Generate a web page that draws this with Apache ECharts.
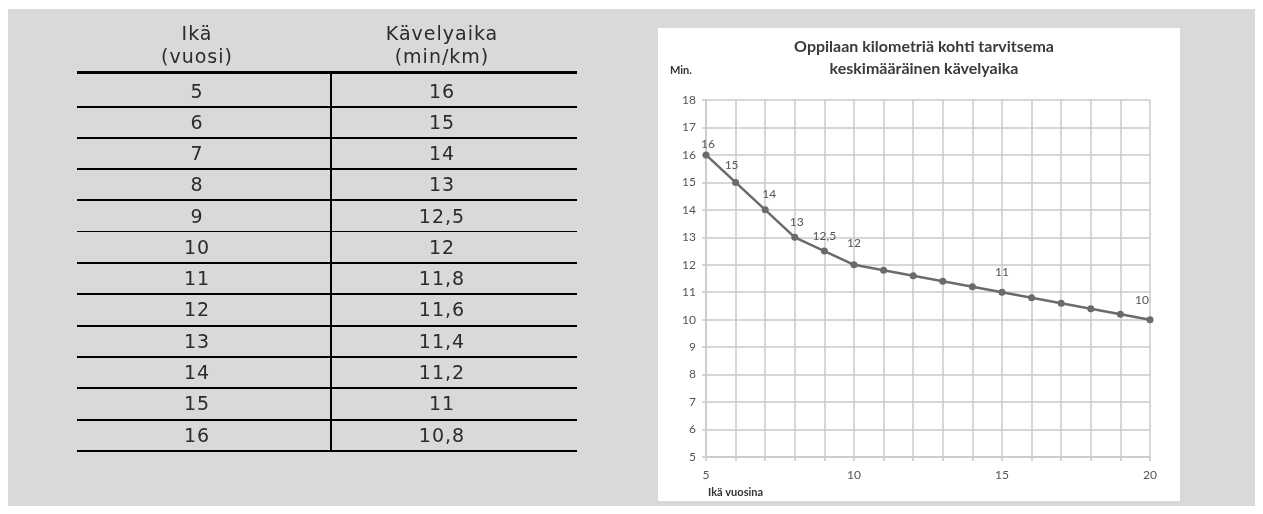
<!DOCTYPE html>
<html>
<head>
<meta charset="utf-8">
<script src="https://cdn.jsdelivr.net/npm/echarts@6/dist/echarts.min.js"></script>
<style>
  html, body { margin: 0; padding: 0; background: #ffffff; }
  #wrap { position: relative; width: 1263px; height: 514px; overflow: hidden; }
  #chart { position: absolute; left: 0; top: 0; width: 1263px; height: 514px; }
  #table { position: absolute; left: 0; top: 0; width: 1263px; height: 514px; pointer-events: none;
           font-family: "DejaVu Sans", sans-serif; color: #2b2b2b; }
  .cell { position: absolute; text-align: center; font-size: 19px; letter-spacing: 1px; line-height: 23px; }
  .hline { position: absolute; background: #000; }
</style>
</head>
<body>
<div id="wrap">
  <div id="chart"></div>
  <div id="table"></div>
</div>
<script>
// ---- data ----
var tableHeaders = [["Ikä", "(vuosi)"], ["Kävelyaika", "(min/km)"]];
var tableAges = ["5", "6", "7", "8", "9", "10", "11", "12", "13", "14", "15", "16"];
var tableTimes = ["16", "15", "14", "13", "12,5", "12", "11,8", "11,6", "11,4", "11,2", "11", "10,8"];

var chartTitle = "Oppilaan kilometriä kohti tarvitsema\nkeskimääräinen kävelyaika";
var yAxisName = "Min.";
var xAxisName = "Ikä vuosina";
var ages = [5, 6, 7, 8, 9, 10, 11, 12, 13, 14, 15, 16, 17, 18, 19, 20];
var walkTimes = [16, 15, 14, 13, 12.5, 12, 11.8, 11.6, 11.4, 11.2, 11, 10.8, 10.6, 10.4, 10.2, 10];
var labelledAges = [5, 6, 7, 8, 9, 10, 15, 20];

// ---- label placement tweaks (style, keyed by age) ----
var labelOffsets = { 5: [2, 4], 6: [-4, -3], 7: [4, -1], 8: [2, -1], 9: [0, 0], 10: [0, -7], 15: [0, -6], 20: [-8, -5] };

// ---- table (HTML) ----
(function () {
  var t = document.getElementById('table');
  var left = 77, right = 577, mid = 331;
  var headerLine = 72, firstRowH = 34.5, rowH = 31.3;
  function add(html) { t.insertAdjacentHTML('beforeend', html); }
  function rowTop(i) { return i === 0 ? headerLine : headerLine + firstRowH + rowH * (i - 1); }
  function rowBottom(i) { return headerLine + firstRowH + rowH * i; }
  add('<div class="cell" style="left:' + left + 'px;width:' + (mid - left - 14) + 'px;top:22px;">' + tableHeaders[0][0] + '<br>' + tableHeaders[0][1] + '</div>');
  add('<div class="cell" style="left:' + mid + 'px;width:' + (right - mid - 24) + 'px;top:22px;">' + tableHeaders[1][0] + '<br>' + tableHeaders[1][1] + '</div>');
  add('<div class="hline" style="left:' + left + 'px;width:' + (right - left) + 'px;top:' + (headerLine - 1) + 'px;height:2.5px;"></div>');
  for (var i = 0; i < tableAges.length; i++) {
    var top = rowTop(i), bot = rowBottom(i);
    var cy = (top + bot) / 2 + (i === 0 ? 2 : 0);
    add('<div class="cell" style="left:' + left + 'px;width:' + (mid - left - 14) + 'px;top:' + (cy - 11.5) + 'px;">' + tableAges[i] + '</div>');
    add('<div class="cell" style="left:' + mid + 'px;width:' + (right - mid - 24) + 'px;top:' + (cy - 11.5) + 'px;">' + tableTimes[i] + '</div>');
    var thin = (i === 3 || i === 4);
    add('<div class="hline" style="left:' + left + 'px;width:' + (right - left) + 'px;top:' + (bot - 1) + 'px;height:' + (thin ? 1.5 : 2.2) + 'px;"></div>');
  }
  add('<div class="hline" style="left:' + (mid - 1) + 'px;width:2px;top:' + (headerLine + 2) + 'px;height:' + (rowBottom(tableAges.length - 1) - headerLine - 2) + 'px;"></div>');
})();

// ---- chart ----
var chart = echarts.init(document.getElementById('chart'), null, { renderer: 'canvas' });
var seriesData = ages.map(function (a, i) {
  var show = labelledAges.indexOf(a) >= 0;
  var item = { value: [a, walkTimes[i]], label: { show: show } };
  if (labelOffsets[a]) item.label.offset = labelOffsets[a];
  return item;
});
var gridColor = '#cacaca';
var labelFont = 'Lato, "Open Sans", sans-serif';
chart.setOption({
  animation: false,
  backgroundColor: '#ffffff',
  graphic: [
    { type: 'rect', shape: { x: 8, y: 9, width: 1247, height: 497 }, style: { fill: '#d9d9d9' }, z: -10, silent: true },
    { type: 'rect', shape: { x: 658, y: 28, width: 522, height: 473 }, style: { fill: '#ffffff' }, z: -9, silent: true }
  ],
  title: {
    text: chartTitle,
    left: 919, top: 31, textAlign: 'center',
    textStyle: { fontFamily: labelFont, fontSize: 16, fontWeight: 'bold', color: '#3a3a3a', lineHeight: 22 }
  },
  grid: { left: 706, right: 1263 - 1150, top: 100, bottom: 514 - 457 },
  xAxis: {
    type: 'value', min: 5, max: 20, interval: 1,
    name: xAxisName, nameLocation: 'start', nameGap: 0,
    nameTextStyle: { fontFamily: labelFont, fontSize: 11, fontWeight: 'bold', color: '#333', align: 'left', verticalAlign: 'top', padding: [30, 0, 0, 2] },
    axisLine: { show: true, lineStyle: { color: gridColor, width: 1.5 } },
    axisTick: { show: true, length: 4, lineStyle: { color: gridColor, width: 1.5 } },
    splitLine: { show: true, lineStyle: { color: gridColor, width: 1.5 } },
    axisLabel: {
      fontFamily: labelFont, fontSize: 12, color: '#555', margin: 12,
      formatter: function (v) { return v % 5 === 0 ? String(v) : ''; }
    }
  },
  yAxis: {
    type: 'value', min: 5, max: 18, interval: 1,
    name: yAxisName, nameLocation: 'end', nameGap: 30,
    nameTextStyle: { fontFamily: labelFont, fontSize: 11, fontWeight: 'bold', color: '#333', align: 'left', verticalAlign: 'middle', padding: [0, 0, 0, -36] },
    axisLine: { show: true, lineStyle: { color: gridColor, width: 1.5 } },
    axisTick: { show: true, length: 4, lineStyle: { color: gridColor, width: 1.5 } },
    splitLine: { show: true, lineStyle: { color: gridColor, width: 1.5 } },
    axisLabel: { fontFamily: labelFont, fontSize: 12, color: '#555', margin: 10 }
  },
  series: [{
    type: 'line',
    data: seriesData,
    symbol: 'circle', symbolSize: 7,
    itemStyle: { color: '#6b6b6b' },
    lineStyle: { color: '#6b6b6b', width: 2.5 },
    label: {
      position: 'top', distance: 5,
      fontFamily: labelFont, fontSize: 12, color: '#555',
      formatter: function (p) { return String(p.value[1]).replace('.', ','); }
    }
  }]
});
</script>
</body>
</html>
